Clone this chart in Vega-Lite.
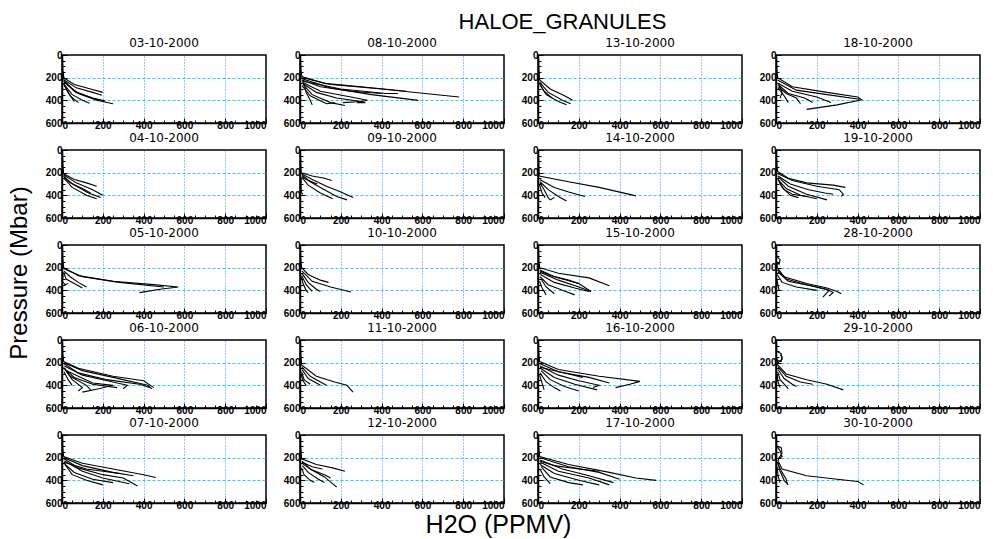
{
  "$schema": "https://vega.github.io/schema/vega-lite/v6.json",
  "title": {"text": "HALOE_GRANULES", "fontSize": 22, "font": "Liberation Sans", "fontWeight": "normal", "color": "black", "anchor": "middle", "dx": 59, "offset": 2},
  "padding": {"left": 0, "top": 11, "right": 0, "bottom": 0},
  "config": {
    "font": "Liberation Sans",
    "view": {"stroke": "black", "strokeWidth": 1.5},
    "concat": {"spacing": 0},
    "axis": {
      "labelFont": "Liberation Sans", "labelFontSize": 10, "labelFontWeight": "bold", "labelColor": "black",
      "domainColor": "black", "domainWidth": 1.5, "tickColor": "black", "tickWidth": 1, "title": null
    },
    "axisX": {"gridColor": "#2f8fe0", "gridDash": [1, 2], "gridWidth": 1, "labelPadding": 2},
    "axisY": {"gridColor": "#20d8d0", "gridDash": [3, 2], "gridWidth": 1, "labelPadding": 5}
  },
  "hconcat": [
    {
      "width": 44,
      "height": 448,
      "view": {"stroke": null},
      "data": {"values": [{"t": "Pressure (Mbar)"}]},
      "mark": {"type": "text", "angle": 270, "font": "Liberation Sans", "fontSize": 24, "color": "black", "baseline": "middle", "align": "center", "dy": -2, "dx": 6},
      "encoding": {"text": {"field": "t", "type": "nominal"}}
    },
    {
      "vconcat": [
        {
          "data": {"values": [
            {"d":"03-10-2000","k":"a","x":2,"y":0},{"d":"03-10-2000","k":"a","x":4,"y":120},{"d":"03-10-2000","k":"a","x":8,"y":200},{"d":"03-10-2000","k":"a","x":60,"y":260},{"d":"03-10-2000","k":"a","x":140,"y":300},{"d":"03-10-2000","k":"a","x":200,"y":330},
            {"d":"03-10-2000","k":"b","x":6,"y":150},{"d":"03-10-2000","k":"b","x":10,"y":220},{"d":"03-10-2000","k":"b","x":70,"y":290},{"d":"03-10-2000","k":"b","x":150,"y":330},{"d":"03-10-2000","k":"b","x":195,"y":355},
            {"d":"03-10-2000","k":"c","x":8,"y":220},{"d":"03-10-2000","k":"c","x":60,"y":320},{"d":"03-10-2000","k":"c","x":150,"y":380},{"d":"03-10-2000","k":"c","x":210,"y":405},
            {"d":"03-10-2000","k":"d","x":10,"y":240},{"d":"03-10-2000","k":"d","x":80,"y":340},{"d":"03-10-2000","k":"d","x":170,"y":400},{"d":"03-10-2000","k":"d","x":250,"y":430},
            {"d":"03-10-2000","k":"e","x":10,"y":260},{"d":"03-10-2000","k":"e","x":50,"y":350},{"d":"03-10-2000","k":"e","x":100,"y":400},{"d":"03-10-2000","k":"e","x":135,"y":425},
            {"d":"03-10-2000","k":"f","x":12,"y":270},{"d":"03-10-2000","k":"f","x":40,"y":360},{"d":"03-10-2000","k":"f","x":80,"y":420},
            {"d":"03-10-2000","k":"g","x":8,"y":230},{"d":"03-10-2000","k":"g","x":70,"y":330},{"d":"03-10-2000","k":"g","x":180,"y":400},
            {"d":"03-10-2000","k":"h","x":6,"y":250},{"d":"03-10-2000","k":"h","x":30,"y":330},{"d":"03-10-2000","k":"h","x":60,"y":410},

            {"d":"08-10-2000","k":"a","x":2,"y":0},{"d":"08-10-2000","k":"a","x":4,"y":120},{"d":"08-10-2000","k":"a","x":10,"y":200},{"d":"08-10-2000","k":"a","x":150,"y":260},{"d":"08-10-2000","k":"a","x":400,"y":300},{"d":"08-10-2000","k":"a","x":780,"y":370},
            {"d":"08-10-2000","k":"b","x":8,"y":190},{"d":"08-10-2000","k":"b","x":120,"y":250},{"d":"08-10-2000","k":"b","x":300,"y":280},{"d":"08-10-2000","k":"b","x":520,"y":320},
            {"d":"08-10-2000","k":"c","x":10,"y":210},{"d":"08-10-2000","k":"c","x":150,"y":290},{"d":"08-10-2000","k":"c","x":350,"y":350},{"d":"08-10-2000","k":"c","x":580,"y":400},
            {"d":"08-10-2000","k":"d","x":10,"y":220},{"d":"08-10-2000","k":"d","x":100,"y":280},{"d":"08-10-2000","k":"d","x":250,"y":320},{"d":"08-10-2000","k":"d","x":400,"y":340},
            {"d":"08-10-2000","k":"e","x":12,"y":240},{"d":"08-10-2000","k":"e","x":100,"y":320},{"d":"08-10-2000","k":"e","x":250,"y":370},{"d":"08-10-2000","k":"e","x":330,"y":400},{"d":"08-10-2000","k":"e","x":280,"y":420},{"d":"08-10-2000","k":"e","x":320,"y":420},
            {"d":"08-10-2000","k":"f","x":12,"y":250},{"d":"08-10-2000","k":"f","x":80,"y":330},{"d":"08-10-2000","k":"f","x":180,"y":380},{"d":"08-10-2000","k":"f","x":300,"y":410},{"d":"08-10-2000","k":"f","x":210,"y":420},
            {"d":"08-10-2000","k":"g","x":15,"y":260},{"d":"08-10-2000","k":"g","x":60,"y":350},{"d":"08-10-2000","k":"g","x":150,"y":420},{"d":"08-10-2000","k":"g","x":220,"y":445},
            {"d":"08-10-2000","k":"h","x":10,"y":270},{"d":"08-10-2000","k":"h","x":50,"y":360},{"d":"08-10-2000","k":"h","x":130,"y":430},{"d":"08-10-2000","k":"h","x":170,"y":420},
            {"d":"08-10-2000","k":"i","x":20,"y":260},{"d":"08-10-2000","k":"i","x":30,"y":330},{"d":"08-10-2000","k":"i","x":50,"y":400},{"d":"08-10-2000","k":"i","x":60,"y":440},
            {"d":"08-10-2000","k":"j","x":8,"y":230},{"d":"08-10-2000","k":"j","x":200,"y":300},{"d":"08-10-2000","k":"j","x":420,"y":340},{"d":"08-10-2000","k":"j","x":480,"y":340},

            {"d":"13-10-2000","k":"a","x":2,"y":0},{"d":"13-10-2000","k":"a","x":4,"y":120},{"d":"13-10-2000","k":"a","x":8,"y":220},{"d":"13-10-2000","k":"a","x":60,"y":300},{"d":"13-10-2000","k":"a","x":130,"y":360},{"d":"13-10-2000","k":"a","x":170,"y":400},
            {"d":"13-10-2000","k":"b","x":8,"y":240},{"d":"13-10-2000","k":"b","x":50,"y":330},{"d":"13-10-2000","k":"b","x":120,"y":400},{"d":"13-10-2000","k":"b","x":160,"y":430},
            {"d":"13-10-2000","k":"c","x":10,"y":260},{"d":"13-10-2000","k":"c","x":40,"y":350},{"d":"13-10-2000","k":"c","x":100,"y":410},{"d":"13-10-2000","k":"c","x":140,"y":440},
            {"d":"13-10-2000","k":"d","x":6,"y":250},{"d":"13-10-2000","k":"d","x":30,"y":320},{"d":"13-10-2000","k":"d","x":70,"y":380},

            {"d":"18-10-2000","k":"a","x":2,"y":0},{"d":"18-10-2000","k":"a","x":4,"y":120},{"d":"18-10-2000","k":"a","x":8,"y":200},{"d":"18-10-2000","k":"a","x":80,"y":280},{"d":"18-10-2000","k":"a","x":250,"y":330},{"d":"18-10-2000","k":"a","x":400,"y":370},{"d":"18-10-2000","k":"a","x":420,"y":395},{"d":"18-10-2000","k":"a","x":300,"y":440},{"d":"18-10-2000","k":"a","x":150,"y":480},
            {"d":"18-10-2000","k":"b","x":8,"y":220},{"d":"18-10-2000","k":"b","x":100,"y":310},{"d":"18-10-2000","k":"b","x":250,"y":350},{"d":"18-10-2000","k":"b","x":410,"y":390},
            {"d":"18-10-2000","k":"c","x":10,"y":250},{"d":"18-10-2000","k":"c","x":80,"y":320},{"d":"18-10-2000","k":"c","x":200,"y":370},{"d":"18-10-2000","k":"c","x":270,"y":420},
            {"d":"18-10-2000","k":"d","x":10,"y":260},{"d":"18-10-2000","k":"d","x":60,"y":340},{"d":"18-10-2000","k":"d","x":140,"y":380},{"d":"18-10-2000","k":"d","x":180,"y":420},
            {"d":"18-10-2000","k":"e","x":12,"y":280},{"d":"18-10-2000","k":"e","x":50,"y":340},{"d":"18-10-2000","k":"e","x":100,"y":380},{"d":"18-10-2000","k":"e","x":120,"y":430},
            {"d":"18-10-2000","k":"f","x":10,"y":290},{"d":"18-10-2000","k":"f","x":40,"y":360},{"d":"18-10-2000","k":"f","x":60,"y":420},
            {"d":"18-10-2000","k":"g","x":15,"y":270},{"d":"18-10-2000","k":"g","x":30,"y":330},{"d":"18-10-2000","k":"g","x":20,"y":380},

            {"d":"04-10-2000","k":"a","x":2,"y":0},{"d":"04-10-2000","k":"a","x":4,"y":120},{"d":"04-10-2000","k":"a","x":8,"y":210},{"d":"04-10-2000","k":"a","x":60,"y":260},{"d":"04-10-2000","k":"a","x":120,"y":290},{"d":"04-10-2000","k":"a","x":170,"y":320},
            {"d":"04-10-2000","k":"b","x":8,"y":220},{"d":"04-10-2000","k":"b","x":70,"y":290},{"d":"04-10-2000","k":"b","x":150,"y":350},{"d":"04-10-2000","k":"b","x":200,"y":400},
            {"d":"04-10-2000","k":"c","x":10,"y":240},{"d":"04-10-2000","k":"c","x":60,"y":310},{"d":"04-10-2000","k":"c","x":130,"y":380},{"d":"04-10-2000","k":"c","x":190,"y":420},
            {"d":"04-10-2000","k":"d","x":10,"y":250},{"d":"04-10-2000","k":"d","x":50,"y":330},{"d":"04-10-2000","k":"d","x":120,"y":400},{"d":"04-10-2000","k":"d","x":170,"y":430},
            {"d":"04-10-2000","k":"e","x":8,"y":230},{"d":"04-10-2000","k":"e","x":40,"y":290},{"d":"04-10-2000","k":"e","x":100,"y":340},{"d":"04-10-2000","k":"e","x":140,"y":380},

            {"d":"09-10-2000","k":"a","x":2,"y":0},{"d":"09-10-2000","k":"a","x":4,"y":120},{"d":"09-10-2000","k":"a","x":6,"y":200},{"d":"09-10-2000","k":"a","x":60,"y":230},{"d":"09-10-2000","k":"a","x":120,"y":250},{"d":"09-10-2000","k":"a","x":155,"y":270},
            {"d":"09-10-2000","k":"b","x":8,"y":210},{"d":"09-10-2000","k":"b","x":60,"y":260},{"d":"09-10-2000","k":"b","x":130,"y":320},{"d":"09-10-2000","k":"b","x":200,"y":370},{"d":"09-10-2000","k":"b","x":260,"y":420},
            {"d":"09-10-2000","k":"c","x":10,"y":220},{"d":"09-10-2000","k":"c","x":50,"y":280},{"d":"09-10-2000","k":"c","x":120,"y":350},{"d":"09-10-2000","k":"c","x":180,"y":410},{"d":"09-10-2000","k":"c","x":230,"y":440},
            {"d":"09-10-2000","k":"d","x":8,"y":240},{"d":"09-10-2000","k":"d","x":40,"y":310},{"d":"09-10-2000","k":"d","x":100,"y":380},{"d":"09-10-2000","k":"d","x":160,"y":430},
            {"d":"09-10-2000","k":"e","x":6,"y":250},{"d":"09-10-2000","k":"e","x":5,"y":330},{"d":"09-10-2000","k":"e","x":8,"y":380},{"d":"09-10-2000","k":"e","x":15,"y":390},
            {"d":"09-10-2000","k":"f","x":10,"y":230},{"d":"09-10-2000","k":"f","x":30,"y":260},{"d":"09-10-2000","k":"f","x":70,"y":290},{"d":"09-10-2000","k":"f","x":85,"y":300},

            {"d":"14-10-2000","k":"a","x":2,"y":0},{"d":"14-10-2000","k":"a","x":4,"y":120},{"d":"14-10-2000","k":"a","x":6,"y":230},{"d":"14-10-2000","k":"a","x":150,"y":280},{"d":"14-10-2000","k":"a","x":300,"y":330},{"d":"14-10-2000","k":"a","x":480,"y":405},
            {"d":"14-10-2000","k":"b","x":8,"y":260},{"d":"14-10-2000","k":"b","x":80,"y":330},{"d":"14-10-2000","k":"b","x":150,"y":370},{"d":"14-10-2000","k":"b","x":230,"y":410},
            {"d":"14-10-2000","k":"c","x":10,"y":280},{"d":"14-10-2000","k":"c","x":50,"y":350},{"d":"14-10-2000","k":"c","x":100,"y":410},{"d":"14-10-2000","k":"c","x":140,"y":450},
            {"d":"14-10-2000","k":"d","x":10,"y":290},{"d":"14-10-2000","k":"d","x":30,"y":350},{"d":"14-10-2000","k":"d","x":50,"y":420},{"d":"14-10-2000","k":"d","x":60,"y":440},{"d":"14-10-2000","k":"d","x":80,"y":420},
            {"d":"14-10-2000","k":"e","x":6,"y":300},{"d":"14-10-2000","k":"e","x":20,"y":380},{"d":"14-10-2000","k":"e","x":35,"y":420},

            {"d":"19-10-2000","k":"a","x":2,"y":0},{"d":"19-10-2000","k":"a","x":4,"y":120},{"d":"19-10-2000","k":"a","x":8,"y":190},{"d":"19-10-2000","k":"a","x":60,"y":250},{"d":"19-10-2000","k":"a","x":150,"y":290},{"d":"19-10-2000","k":"a","x":280,"y":310},{"d":"19-10-2000","k":"a","x":340,"y":330},
            {"d":"19-10-2000","k":"b","x":10,"y":210},{"d":"19-10-2000","k":"b","x":80,"y":270},{"d":"19-10-2000","k":"b","x":200,"y":320},{"d":"19-10-2000","k":"b","x":310,"y":350},{"d":"19-10-2000","k":"b","x":330,"y":390},{"d":"19-10-2000","k":"b","x":320,"y":410},
            {"d":"19-10-2000","k":"c","x":10,"y":230},{"d":"19-10-2000","k":"c","x":70,"y":300},{"d":"19-10-2000","k":"c","x":160,"y":350},{"d":"19-10-2000","k":"c","x":240,"y":380},{"d":"19-10-2000","k":"c","x":280,"y":390},
            {"d":"19-10-2000","k":"d","x":12,"y":240},{"d":"19-10-2000","k":"d","x":60,"y":320},{"d":"19-10-2000","k":"d","x":150,"y":390},{"d":"19-10-2000","k":"d","x":250,"y":440},
            {"d":"19-10-2000","k":"e","x":10,"y":260},{"d":"19-10-2000","k":"e","x":50,"y":340},{"d":"19-10-2000","k":"e","x":120,"y":400},{"d":"19-10-2000","k":"e","x":200,"y":430},
            {"d":"19-10-2000","k":"f","x":15,"y":280},{"d":"19-10-2000","k":"f","x":40,"y":350},{"d":"19-10-2000","k":"f","x":80,"y":390},{"d":"19-10-2000","k":"f","x":150,"y":410},
            {"d":"19-10-2000","k":"g","x":8,"y":250},{"d":"19-10-2000","k":"g","x":30,"y":330},{"d":"19-10-2000","k":"g","x":70,"y":400},{"d":"19-10-2000","k":"g","x":110,"y":420},

            {"d":"05-10-2000","k":"a","x":2,"y":0},{"d":"05-10-2000","k":"a","x":4,"y":120},{"d":"05-10-2000","k":"a","x":8,"y":200},{"d":"05-10-2000","k":"a","x":80,"y":270},{"d":"05-10-2000","k":"a","x":250,"y":320},{"d":"05-10-2000","k":"a","x":450,"y":350},{"d":"05-10-2000","k":"a","x":570,"y":370},{"d":"05-10-2000","k":"a","x":480,"y":390},{"d":"05-10-2000","k":"a","x":380,"y":420},
            {"d":"05-10-2000","k":"b","x":10,"y":210},{"d":"05-10-2000","k":"b","x":100,"y":280},{"d":"05-10-2000","k":"b","x":280,"y":330},{"d":"05-10-2000","k":"b","x":500,"y":370},
            {"d":"05-10-2000","k":"c","x":10,"y":230},{"d":"05-10-2000","k":"c","x":40,"y":280},{"d":"05-10-2000","k":"c","x":80,"y":330},{"d":"05-10-2000","k":"c","x":120,"y":370},
            {"d":"05-10-2000","k":"d","x":8,"y":240},{"d":"05-10-2000","k":"d","x":20,"y":300},{"d":"05-10-2000","k":"d","x":60,"y":340},{"d":"05-10-2000","k":"d","x":100,"y":380},
            {"d":"05-10-2000","k":"e","x":6,"y":260},{"d":"05-10-2000","k":"e","x":2,"y":320},{"d":"05-10-2000","k":"e","x":15,"y":350},{"d":"05-10-2000","k":"e","x":30,"y":340},

            {"d":"10-10-2000","k":"a","x":2,"y":0},{"d":"10-10-2000","k":"a","x":4,"y":120},{"d":"10-10-2000","k":"a","x":8,"y":200},{"d":"10-10-2000","k":"a","x":40,"y":260},{"d":"10-10-2000","k":"a","x":100,"y":310},{"d":"10-10-2000","k":"a","x":140,"y":330},
            {"d":"10-10-2000","k":"b","x":10,"y":230},{"d":"10-10-2000","k":"b","x":60,"y":320},{"d":"10-10-2000","k":"b","x":150,"y":370},{"d":"10-10-2000","k":"b","x":250,"y":415},
            {"d":"10-10-2000","k":"c","x":10,"y":250},{"d":"10-10-2000","k":"c","x":40,"y":330},{"d":"10-10-2000","k":"c","x":80,"y":390},{"d":"10-10-2000","k":"c","x":100,"y":410},
            {"d":"10-10-2000","k":"d","x":8,"y":270},{"d":"10-10-2000","k":"d","x":30,"y":350},{"d":"10-10-2000","k":"d","x":60,"y":410},
            {"d":"10-10-2000","k":"e","x":6,"y":280},{"d":"10-10-2000","k":"e","x":15,"y":340},{"d":"10-10-2000","k":"e","x":30,"y":400},{"d":"10-10-2000","k":"e","x":40,"y":420},

            {"d":"15-10-2000","k":"a","x":2,"y":0},{"d":"15-10-2000","k":"a","x":4,"y":120},{"d":"15-10-2000","k":"a","x":8,"y":200},{"d":"15-10-2000","k":"a","x":100,"y":250},{"d":"15-10-2000","k":"a","x":250,"y":290},{"d":"15-10-2000","k":"a","x":350,"y":360},
            {"d":"15-10-2000","k":"b","x":10,"y":220},{"d":"15-10-2000","k":"b","x":80,"y":280},{"d":"15-10-2000","k":"b","x":200,"y":340},{"d":"15-10-2000","k":"b","x":260,"y":410},
            {"d":"15-10-2000","k":"c","x":10,"y":240},{"d":"15-10-2000","k":"c","x":100,"y":310},{"d":"15-10-2000","k":"c","x":200,"y":370},{"d":"15-10-2000","k":"c","x":260,"y":410},
            {"d":"15-10-2000","k":"d","x":12,"y":260},{"d":"15-10-2000","k":"d","x":80,"y":330},{"d":"15-10-2000","k":"d","x":180,"y":380},{"d":"15-10-2000","k":"d","x":250,"y":410},
            {"d":"15-10-2000","k":"e","x":10,"y":280},{"d":"15-10-2000","k":"e","x":50,"y":350},{"d":"15-10-2000","k":"e","x":120,"y":400},{"d":"15-10-2000","k":"e","x":180,"y":440},
            {"d":"15-10-2000","k":"f","x":15,"y":300},{"d":"15-10-2000","k":"f","x":40,"y":370},{"d":"15-10-2000","k":"f","x":80,"y":430},
            {"d":"15-10-2000","k":"g","x":8,"y":320},{"d":"15-10-2000","k":"g","x":20,"y":380},{"d":"15-10-2000","k":"g","x":40,"y":440},
            {"d":"15-10-2000","k":"h","x":10,"y":230},{"d":"15-10-2000","k":"h","x":60,"y":270},{"d":"15-10-2000","k":"h","x":150,"y":310},{"d":"15-10-2000","k":"h","x":200,"y":340},

            {"d":"28-10-2000","k":"a","x":2,"y":0},{"d":"28-10-2000","k":"a","x":4,"y":100},{"d":"28-10-2000","k":"a","x":20,"y":130},{"d":"28-10-2000","k":"a","x":15,"y":170},{"d":"28-10-2000","k":"a","x":5,"y":150},{"d":"28-10-2000","k":"a","x":6,"y":200},{"d":"28-10-2000","k":"a","x":40,"y":280},{"d":"28-10-2000","k":"a","x":150,"y":340},{"d":"28-10-2000","k":"a","x":250,"y":380},{"d":"28-10-2000","k":"a","x":300,"y":410},{"d":"28-10-2000","k":"a","x":320,"y":430},
            {"d":"28-10-2000","k":"b","x":8,"y":220},{"d":"28-10-2000","k":"b","x":50,"y":300},{"d":"28-10-2000","k":"b","x":150,"y":350},{"d":"28-10-2000","k":"b","x":250,"y":390},{"d":"28-10-2000","k":"b","x":280,"y":420},{"d":"28-10-2000","k":"b","x":260,"y":450},
            {"d":"28-10-2000","k":"c","x":10,"y":240},{"d":"28-10-2000","k":"c","x":60,"y":320},{"d":"28-10-2000","k":"c","x":170,"y":360},{"d":"28-10-2000","k":"c","x":260,"y":400},{"d":"28-10-2000","k":"c","x":230,"y":460},
            {"d":"28-10-2000","k":"d","x":6,"y":260},{"d":"28-10-2000","k":"d","x":30,"y":330},{"d":"28-10-2000","k":"d","x":100,"y":370},{"d":"28-10-2000","k":"d","x":200,"y":400},
            {"d":"28-10-2000","k":"e","x":4,"y":300},{"d":"28-10-2000","k":"e","x":10,"y":360},{"d":"28-10-2000","k":"e","x":15,"y":400},

            {"d":"06-10-2000","k":"a","x":2,"y":0},{"d":"06-10-2000","k":"a","x":4,"y":120},{"d":"06-10-2000","k":"a","x":8,"y":190},{"d":"06-10-2000","k":"a","x":80,"y":250},{"d":"06-10-2000","k":"a","x":250,"y":320},{"d":"06-10-2000","k":"a","x":400,"y":360},{"d":"06-10-2000","k":"a","x":450,"y":420},
            {"d":"06-10-2000","k":"b","x":10,"y":200},{"d":"06-10-2000","k":"b","x":100,"y":270},{"d":"06-10-2000","k":"b","x":250,"y":330},{"d":"06-10-2000","k":"b","x":420,"y":400},{"d":"06-10-2000","k":"b","x":440,"y":430},
            {"d":"06-10-2000","k":"c","x":10,"y":210},{"d":"06-10-2000","k":"c","x":80,"y":290},{"d":"06-10-2000","k":"c","x":220,"y":350},{"d":"06-10-2000","k":"c","x":380,"y":390},{"d":"06-10-2000","k":"c","x":430,"y":420},
            {"d":"06-10-2000","k":"d","x":12,"y":230},{"d":"06-10-2000","k":"d","x":100,"y":310},{"d":"06-10-2000","k":"d","x":250,"y":370},{"d":"06-10-2000","k":"d","x":320,"y":400},{"d":"06-10-2000","k":"d","x":300,"y":430},
            {"d":"06-10-2000","k":"e","x":10,"y":250},{"d":"06-10-2000","k":"e","x":60,"y":330},{"d":"06-10-2000","k":"e","x":150,"y":390},{"d":"06-10-2000","k":"e","x":270,"y":420},
            {"d":"06-10-2000","k":"f","x":15,"y":260},{"d":"06-10-2000","k":"f","x":50,"y":350},{"d":"06-10-2000","k":"f","x":100,"y":420},{"d":"06-10-2000","k":"f","x":80,"y":450},
            {"d":"06-10-2000","k":"g","x":20,"y":270},{"d":"06-10-2000","k":"g","x":150,"y":380},{"d":"06-10-2000","k":"g","x":250,"y":400},{"d":"06-10-2000","k":"g","x":180,"y":430},{"d":"06-10-2000","k":"g","x":100,"y":460},
            {"d":"06-10-2000","k":"h","x":10,"y":280},{"d":"06-10-2000","k":"h","x":30,"y":350},{"d":"06-10-2000","k":"h","x":50,"y":400},
            {"d":"06-10-2000","k":"i","x":8,"y":240},{"d":"06-10-2000","k":"i","x":40,"y":320},{"d":"06-10-2000","k":"i","x":120,"y":400},{"d":"06-10-2000","k":"i","x":140,"y":440},

            {"d":"11-10-2000","k":"a","x":2,"y":0},{"d":"11-10-2000","k":"a","x":4,"y":120},{"d":"11-10-2000","k":"a","x":8,"y":220},{"d":"11-10-2000","k":"a","x":80,"y":320},{"d":"11-10-2000","k":"a","x":170,"y":370},{"d":"11-10-2000","k":"a","x":230,"y":400},{"d":"11-10-2000","k":"a","x":260,"y":460},
            {"d":"11-10-2000","k":"b","x":10,"y":240},{"d":"11-10-2000","k":"b","x":50,"y":320},{"d":"11-10-2000","k":"b","x":100,"y":370},{"d":"11-10-2000","k":"b","x":130,"y":400},
            {"d":"11-10-2000","k":"c","x":10,"y":260},{"d":"11-10-2000","k":"c","x":40,"y":340},{"d":"11-10-2000","k":"c","x":80,"y":380},{"d":"11-10-2000","k":"c","x":100,"y":400},
            {"d":"11-10-2000","k":"d","x":8,"y":280},{"d":"11-10-2000","k":"d","x":20,"y":350},{"d":"11-10-2000","k":"d","x":50,"y":390},
            {"d":"11-10-2000","k":"e","x":5,"y":300},{"d":"11-10-2000","k":"e","x":15,"y":360},{"d":"11-10-2000","k":"e","x":30,"y":400},

            {"d":"16-10-2000","k":"a","x":2,"y":0},{"d":"16-10-2000","k":"a","x":4,"y":120},{"d":"16-10-2000","k":"a","x":8,"y":190},{"d":"16-10-2000","k":"a","x":100,"y":260},{"d":"16-10-2000","k":"a","x":300,"y":320},{"d":"16-10-2000","k":"a","x":500,"y":365},{"d":"16-10-2000","k":"a","x":450,"y":390},{"d":"16-10-2000","k":"a","x":380,"y":420},
            {"d":"16-10-2000","k":"b","x":10,"y":210},{"d":"16-10-2000","k":"b","x":100,"y":280},{"d":"16-10-2000","k":"b","x":250,"y":330},{"d":"16-10-2000","k":"b","x":350,"y":380},
            {"d":"16-10-2000","k":"c","x":10,"y":230},{"d":"16-10-2000","k":"c","x":100,"y":310},{"d":"16-10-2000","k":"c","x":200,"y":360},{"d":"16-10-2000","k":"c","x":300,"y":400},{"d":"16-10-2000","k":"c","x":270,"y":420},
            {"d":"16-10-2000","k":"d","x":12,"y":250},{"d":"16-10-2000","k":"d","x":80,"y":330},{"d":"16-10-2000","k":"d","x":180,"y":390},{"d":"16-10-2000","k":"d","x":290,"y":440},
            {"d":"16-10-2000","k":"e","x":15,"y":270},{"d":"16-10-2000","k":"e","x":60,"y":350},{"d":"16-10-2000","k":"e","x":130,"y":410},{"d":"16-10-2000","k":"e","x":200,"y":450},
            {"d":"16-10-2000","k":"f","x":10,"y":290},{"d":"16-10-2000","k":"f","x":40,"y":370},{"d":"16-10-2000","k":"f","x":80,"y":420},{"d":"16-10-2000","k":"f","x":110,"y":450},
            {"d":"16-10-2000","k":"g","x":8,"y":310},{"d":"16-10-2000","k":"g","x":20,"y":380},{"d":"16-10-2000","k":"g","x":30,"y":440},
            {"d":"16-10-2000","k":"h","x":10,"y":240},{"d":"16-10-2000","k":"h","x":150,"y":300},{"d":"16-10-2000","k":"h","x":220,"y":330},

            {"d":"29-10-2000","k":"a","x":2,"y":0},{"d":"29-10-2000","k":"a","x":4,"y":100},{"d":"29-10-2000","k":"a","x":25,"y":120},{"d":"29-10-2000","k":"a","x":30,"y":170},{"d":"29-10-2000","k":"a","x":10,"y":200},{"d":"29-10-2000","k":"a","x":4,"y":160},{"d":"29-10-2000","k":"a","x":8,"y":220},{"d":"29-10-2000","k":"a","x":50,"y":300},{"d":"29-10-2000","k":"a","x":150,"y":350},{"d":"29-10-2000","k":"a","x":250,"y":390},{"d":"29-10-2000","k":"a","x":330,"y":440},
            {"d":"29-10-2000","k":"b","x":10,"y":240},{"d":"29-10-2000","k":"b","x":50,"y":320},{"d":"29-10-2000","k":"b","x":120,"y":370},{"d":"29-10-2000","k":"b","x":180,"y":390},
            {"d":"29-10-2000","k":"c","x":10,"y":260},{"d":"29-10-2000","k":"c","x":40,"y":340},{"d":"29-10-2000","k":"c","x":80,"y":390},{"d":"29-10-2000","k":"c","x":100,"y":410},
            {"d":"29-10-2000","k":"d","x":8,"y":280},{"d":"29-10-2000","k":"d","x":20,"y":350},{"d":"29-10-2000","k":"d","x":50,"y":410},{"d":"29-10-2000","k":"d","x":60,"y":430},
            {"d":"29-10-2000","k":"e","x":5,"y":300},{"d":"29-10-2000","k":"e","x":10,"y":370},{"d":"29-10-2000","k":"e","x":20,"y":420},
            {"d":"29-10-2000","k":"f","x":20,"y":130},{"d":"29-10-2000","k":"f","x":30,"y":150},{"d":"29-10-2000","k":"f","x":25,"y":190},{"d":"29-10-2000","k":"f","x":10,"y":180},

            {"d":"07-10-2000","k":"a","x":2,"y":0},{"d":"07-10-2000","k":"a","x":4,"y":120},{"d":"07-10-2000","k":"a","x":8,"y":190},{"d":"07-10-2000","k":"a","x":100,"y":250},{"d":"07-10-2000","k":"a","x":250,"y":300},{"d":"07-10-2000","k":"a","x":400,"y":350},{"d":"07-10-2000","k":"a","x":460,"y":375},
            {"d":"07-10-2000","k":"b","x":10,"y":200},{"d":"07-10-2000","k":"b","x":100,"y":270},{"d":"07-10-2000","k":"b","x":250,"y":330},{"d":"07-10-2000","k":"b","x":350,"y":360},
            {"d":"07-10-2000","k":"c","x":10,"y":210},{"d":"07-10-2000","k":"c","x":80,"y":290},{"d":"07-10-2000","k":"c","x":200,"y":350},{"d":"07-10-2000","k":"c","x":300,"y":380},{"d":"07-10-2000","k":"c","x":370,"y":450},
            {"d":"07-10-2000","k":"d","x":12,"y":230},{"d":"07-10-2000","k":"d","x":100,"y":320},{"d":"07-10-2000","k":"d","x":200,"y":380},{"d":"07-10-2000","k":"d","x":330,"y":430},
            {"d":"07-10-2000","k":"e","x":10,"y":250},{"d":"07-10-2000","k":"e","x":60,"y":330},{"d":"07-10-2000","k":"e","x":150,"y":390},{"d":"07-10-2000","k":"e","x":250,"y":420},
            {"d":"07-10-2000","k":"f","x":15,"y":260},{"d":"07-10-2000","k":"f","x":50,"y":350},{"d":"07-10-2000","k":"f","x":120,"y":400},{"d":"07-10-2000","k":"f","x":200,"y":440},
            {"d":"07-10-2000","k":"g","x":8,"y":240},{"d":"07-10-2000","k":"g","x":120,"y":300},{"d":"07-10-2000","k":"g","x":280,"y":340},

            {"d":"12-10-2000","k":"a","x":2,"y":0},{"d":"12-10-2000","k":"a","x":4,"y":120},{"d":"12-10-2000","k":"a","x":8,"y":210},{"d":"12-10-2000","k":"a","x":80,"y":260},{"d":"12-10-2000","k":"a","x":160,"y":290},{"d":"12-10-2000","k":"a","x":220,"y":320},
            {"d":"12-10-2000","k":"b","x":10,"y":230},{"d":"12-10-2000","k":"b","x":50,"y":300},{"d":"12-10-2000","k":"b","x":120,"y":370},{"d":"12-10-2000","k":"b","x":180,"y":460},
            {"d":"12-10-2000","k":"c","x":10,"y":250},{"d":"12-10-2000","k":"c","x":60,"y":310},{"d":"12-10-2000","k":"c","x":120,"y":350},{"d":"12-10-2000","k":"c","x":150,"y":380},
            {"d":"12-10-2000","k":"d","x":12,"y":270},{"d":"12-10-2000","k":"d","x":40,"y":330},{"d":"12-10-2000","k":"d","x":90,"y":390},{"d":"12-10-2000","k":"d","x":120,"y":420},
            {"d":"12-10-2000","k":"e","x":8,"y":290},{"d":"12-10-2000","k":"e","x":20,"y":350},{"d":"12-10-2000","k":"e","x":50,"y":400},{"d":"12-10-2000","k":"e","x":70,"y":420},
            {"d":"12-10-2000","k":"f","x":10,"y":240},{"d":"12-10-2000","k":"f","x":60,"y":280},{"d":"12-10-2000","k":"f","x":110,"y":300},

            {"d":"17-10-2000","k":"a","x":2,"y":0},{"d":"17-10-2000","k":"a","x":4,"y":120},{"d":"17-10-2000","k":"a","x":8,"y":190},{"d":"17-10-2000","k":"a","x":150,"y":260},{"d":"17-10-2000","k":"a","x":350,"y":330},{"d":"17-10-2000","k":"a","x":480,"y":380},{"d":"17-10-2000","k":"a","x":580,"y":400},
            {"d":"17-10-2000","k":"b","x":10,"y":200},{"d":"17-10-2000","k":"b","x":150,"y":280},{"d":"17-10-2000","k":"b","x":300,"y":330},{"d":"17-10-2000","k":"b","x":400,"y":390},
            {"d":"17-10-2000","k":"c","x":10,"y":220},{"d":"17-10-2000","k":"c","x":120,"y":300},{"d":"17-10-2000","k":"c","x":250,"y":360},{"d":"17-10-2000","k":"c","x":370,"y":420},
            {"d":"17-10-2000","k":"d","x":12,"y":240},{"d":"17-10-2000","k":"d","x":100,"y":320},{"d":"17-10-2000","k":"d","x":250,"y":380},{"d":"17-10-2000","k":"d","x":350,"y":440},
            {"d":"17-10-2000","k":"e","x":10,"y":260},{"d":"17-10-2000","k":"e","x":80,"y":340},{"d":"17-10-2000","k":"e","x":200,"y":400},{"d":"17-10-2000","k":"e","x":300,"y":440},
            {"d":"17-10-2000","k":"f","x":15,"y":280},{"d":"17-10-2000","k":"f","x":60,"y":370},{"d":"17-10-2000","k":"f","x":150,"y":420},{"d":"17-10-2000","k":"f","x":220,"y":440},
            {"d":"17-10-2000","k":"g","x":10,"y":300},{"d":"17-10-2000","k":"g","x":30,"y":370},{"d":"17-10-2000","k":"g","x":60,"y":430},
            {"d":"17-10-2000","k":"h","x":8,"y":230},{"d":"17-10-2000","k":"h","x":80,"y":270},{"d":"17-10-2000","k":"h","x":200,"y":300},{"d":"17-10-2000","k":"h","x":300,"y":320},

            {"d":"30-10-2000","k":"a","x":2,"y":0},{"d":"30-10-2000","k":"a","x":4,"y":100},{"d":"30-10-2000","k":"a","x":25,"y":110},{"d":"30-10-2000","k":"a","x":30,"y":160},{"d":"30-10-2000","k":"a","x":15,"y":200},{"d":"30-10-2000","k":"a","x":10,"y":230},{"d":"30-10-2000","k":"a","x":30,"y":300},{"d":"30-10-2000","k":"a","x":150,"y":360},{"d":"30-10-2000","k":"a","x":300,"y":390},{"d":"30-10-2000","k":"a","x":400,"y":410},{"d":"30-10-2000","k":"a","x":430,"y":440},
            {"d":"30-10-2000","k":"b","x":8,"y":240},{"d":"30-10-2000","k":"b","x":20,"y":320},{"d":"30-10-2000","k":"b","x":40,"y":400},{"d":"30-10-2000","k":"b","x":60,"y":440},
            {"d":"30-10-2000","k":"c","x":10,"y":260},{"d":"30-10-2000","k":"c","x":30,"y":330},{"d":"30-10-2000","k":"c","x":50,"y":390},{"d":"30-10-2000","k":"c","x":55,"y":430},
            {"d":"30-10-2000","k":"d","x":6,"y":280},{"d":"30-10-2000","k":"d","x":10,"y":360},{"d":"30-10-2000","k":"d","x":20,"y":420},
            {"d":"30-10-2000","k":"e","x":5,"y":100},{"d":"30-10-2000","k":"e","x":20,"y":140},{"d":"30-10-2000","k":"e","x":30,"y":190},{"d":"30-10-2000","k":"e","x":10,"y":210}
          ]},
          "transform": [{"window": [{"op": "row_number", "as": "n"}]}],
          "columns": 4,
          "spacing": {"row": 27, "column": 34},
          "bounds": "flush",
          "resolve": {"axis": {"x": "independent", "y": "independent"}},
          "facet": {
            "field": "d", "type": "nominal", "title": null,
            "sort": ["03-10-2000","08-10-2000","13-10-2000","18-10-2000","04-10-2000","09-10-2000","14-10-2000","19-10-2000","05-10-2000","10-10-2000","15-10-2000","28-10-2000","06-10-2000","11-10-2000","16-10-2000","29-10-2000","07-10-2000","12-10-2000","17-10-2000","30-10-2000"],
            "header": {"labelFont": "DejaVu Sans", "labelFontSize": 12, "labelColor": "black", "labelPadding": 0}
          },
          "spec": {
            "width": 204,
            "height": 68,
            "mark": {"type": "line", "color": "black", "strokeWidth": 1.1},
            "encoding": {
              "x": {"field": "x", "type": "quantitative", "scale": {"domain": [0, 1000], "nice": false},
                "axis": {"values": [0,50,100,150,200,250,300,350,400,450,500,550,600,650,700,750,800,850,900,950,1000], "format": "d",
                  "labelExpr": "datum.value % 200 == 0 ? datum.label : ''",
                  "tickSize": {"condition": {"test": "datum.value % 200 == 0", "value": -5}, "value": -3},
                  "gridOpacity": {"condition": {"test": "datum.value % 200 == 0 && datum.value > 0 && datum.value < 1000", "value": 1}, "value": 0}}},
              "y": {"field": "y", "type": "quantitative", "scale": {"domain": [0, 600], "reverse": true, "nice": false},
                "axis": {"values": [0,50,100,150,200,250,300,350,400,450,500,550,600], "format": "d",
                  "labelExpr": "datum.value % 200 == 0 ? datum.label : ''",
                  "tickSize": {"condition": {"test": "datum.value % 200 == 0", "value": -5}, "value": -3},
                  "gridOpacity": {"condition": {"test": "datum.value % 200 == 0 && datum.value > 0 && datum.value < 600", "value": 1}, "value": 0}}},
              "detail": {"field": "k", "type": "nominal"},
              "order": {"field": "n", "type": "quantitative"}
            }
          }
        },
        {
          "width": 945,
          "height": 22,
          "view": {"stroke": null},
          "data": {"values": [{"t": "H2O  (PPMV)"}]},
          "mark": {"type": "text", "font": "Liberation Sans", "fontSize": 25, "color": "black", "baseline": "middle", "align": "center", "dx": -36, "dy": 3},
          "encoding": {"text": {"field": "t", "type": "nominal"}}
        }
      ]
    }
  ]
}
